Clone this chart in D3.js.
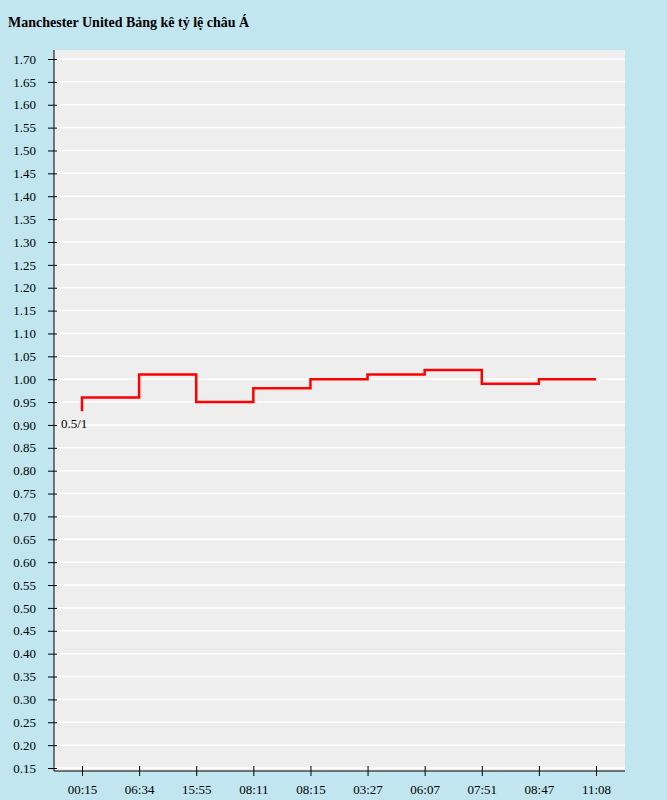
<!DOCTYPE html>
<html><head><meta charset="utf-8">
<script src="https://cdn.jsdelivr.net/npm/d3@7"></script>
<style>
body{margin:0;background:#c1e6f0;font-family:"Liberation Serif","Times New Roman",serif;}
</style></head>
<body>
<svg id="chart" width="667" height="800"></svg>
<script>
const times = ["00:15","06:34","15:55","08:11","08:15","03:27","06:07","07:51","08:47","11:08"];
const odds = [0.93,0.96,1.01,0.95,0.98,1.00,1.01,1.02,0.99,1.00];
const yTicks = d3.range(15, 171, 5).map(v => v / 100);

const svg = d3.select("#chart");
const plotL = 54, plotR = 625, plotT = 50, plotB = 771;

svg.append("text").attr("x", 8).attr("y", 27)
  .style("font-weight", "bold").style("font-size", "14px")
  .text("Manchester United Bảng kê tỷ lệ châu Á");

svg.append("rect").attr("x", plotL).attr("y", plotT)
  .attr("width", plotR - plotL).attr("height", plotB - plotT).attr("fill", "#eeeeee");

const y = d3.scaleLinear().domain([0.15, 1.70]).range([768, 59]);
const x = d3.scalePoint().domain(times).range([82, 596]);

svg.append("g").selectAll("line").data(yTicks).join("line")
  .attr("x1", plotL).attr("x2", plotR)
  .attr("y1", d => y(d)).attr("y2", d => y(d))
  .attr("stroke", "#fff").attr("stroke-width", 1.5);

const yAxis = svg.append("g").attr("transform", `translate(${plotL},0)`)
  .call(d3.axisLeft(y).tickValues(yTicks).tickFormat(d3.format(".2f")).tickSize(6).tickPadding(12));
yAxis.select(".domain").attr("d", `M0,${plotT}V${plotB}`);
yAxis.selectAll(".tick line").attr("x1", -6).attr("x2", 3);

const xAxis = svg.append("g").attr("transform", `translate(0,${plotB})`)
  .call(d3.axisBottom(x).tickSize(5).tickPadding(9));
xAxis.select(".domain").attr("d", `M${plotL},0H${plotR}`);
xAxis.selectAll(".tick line").attr("y1", -5).attr("y2", 5);

svg.selectAll(".tick text").style("font-size", "13px")
  .style("font-family", "'Liberation Serif',serif").attr("fill", "#000");
svg.selectAll(".domain, .tick line").attr("stroke", "#000");

svg.append("path").datum(odds)
  .attr("d", d3.line().x((d, i) => x(times[i])).y(d => y(d)).curve(d3.curveStepBefore))
  .attr("fill", "none").attr("stroke", "red").attr("stroke-width", 2.5);

svg.append("text").attr("x", 61).attr("y", 428)
  .style("font-size", "13px").text("0.5/1");
</script>
</body></html>
